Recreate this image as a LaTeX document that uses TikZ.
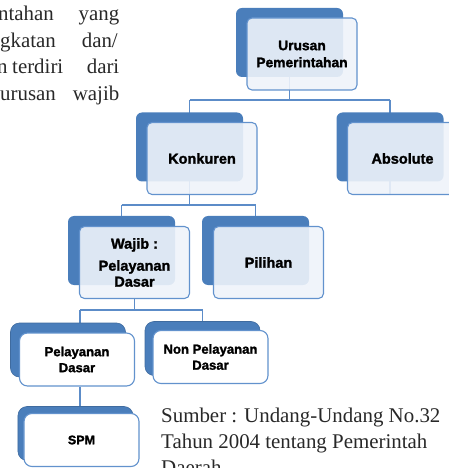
\documentclass[tikz,border=0pt]{standalone}
\usepackage{fontspec}
\setmainfont{Liberation Serif}
\newfontfamily\boxfont{Liberation Sans}[BoldFeatures={FakeBold=1.6}]
\definecolor{backblue}{RGB}{74,126,187}
\definecolor{edgeblue}{RGB}{98,146,205}
\definecolor{linkblue}{RGB}{92,140,200}
\definecolor{frontfill}{RGB}{238,243,250}
\definecolor{prose}{RGB}{40,40,40}
\pgfdeclarelayer{links}
\pgfsetlayers{links,main}
\begin{document}
\begin{tikzpicture}[x=1bp,y=-1bp,
  backbox/.style={fill=backblue, draw=none, rounded corners=6bp, minimum width=107bp, minimum height=69bp, inner sep=0pt},
  frontbox/.style={draw=edgeblue, line width=1.1bp, fill=frontfill, fill opacity=0.9, text opacity=1, draw opacity=1,
    rounded corners=5bp, minimum width=110bp, minimum height=72bp, inner sep=0pt, align=center,
    font=\boxfont\bfseries\fontsize{14.5bp}{16bp}\selectfont},
  backboxq/.style={fill=backblue, draw=backblue!85!black, line width=0.6bp, rounded corners=9bp, minimum width=115bp, minimum height=54bp, inner sep=0pt},
  frontboxq/.style={draw=edgeblue, line width=1.1bp, fill=white, rounded corners=8bp, minimum width=115bp, minimum height=53bp,
    inner sep=0pt, align=center, font=\boxfont\bfseries\fontsize{13.1bp}{16bp}\selectfont},
  conn/.style={draw=linkblue, line width=1.2bp},
  prosetext/.style={inner sep=0pt, text=prose, font=\fontsize{20.9bp}{26bp}\selectfont}
]
\useasboundingbox (0,0) rectangle (449,468);
\clip (0,0) rectangle (449,468);

% level 1
\node[backbox] (uB) at (289.5,42.5) {};
\node[frontbox, font=\boxfont\bfseries\fontsize{13.8bp}{17bp}\selectfont] (uF) at (302,54) {Urusan\\Pemerintahan};
% level 2
\node[backbox] (kB) at (189.5,147) {};
\node[frontbox] (kF) at (202,158.5) {Konkuren};
\node[backbox] (aB) at (390,147) {};
\node[frontbox] (aF) at (402.5,158.5) {Absolute};
% level 3
\node[backbox] (wB) at (121.5,250.5) {};
\node[frontbox] (wF) at (134.5,262.5) {Wajib :\\[6bp]Pelayanan\\Dasar};
\node[backbox] (piB) at (255.5,250.5) {};
\node[frontbox] (piF) at (268.5,262.5) {Pilihan};
% level 4
\node[backboxq] (pB) at (68,350) {};
\node[frontboxq] (pF) at (77,359.5) {Pelayanan\\Dasar};
\node[backboxq] (nB) at (202.5,348.5) {};
\node[frontboxq] (nF) at (210.5,357) {Non Pelayanan\\Dasar};
% level 5
\node[backboxq] (sB) at (75.5,433.5) {};
\node[frontboxq, font=\boxfont\bfseries\fontsize{12.5bp}{16bp}\selectfont] (sF) at (81.5,440) {SPM};

% connectors
\coordinate (b1) at (0,100);
\coordinate (b2) at (0,205);
\coordinate (b3) at (80,310);
\begin{pgfonlayer}{links}
\draw[conn] (uB.center) -- (uB.center |- b1);
\draw[conn] (kB.center |- b1) -- (aB.center |- b1);
\draw[conn] (kB.center |- b1) -- (kB.center) -- (kB.center |- b2);
\draw[conn] (aB.center |- b1) -- (aB.center) -- (aB.center |- aF.south);
\draw[conn] (wB.center |- b2) -- (piB.center |- b2);
\draw[conn] (wB.center |- b2) -- (wB.center);
\draw[conn] (piB.center |- b2) -- (piB.center);
\draw[conn] (wF.south) -- (wF.south |- b3);
\draw[conn] (b3) -- (nB.center |- b3) -- (nB.center);
\draw[conn] (b3) -- (b3 |- pB.center);
\draw[conn] (b3 |- pF.south) -- (b3 |- sB.center);
\end{pgfonlayer}

% paragraph fragment (top left)
\node[prosetext, anchor=base west] (p1a) at (-2,21) {ntahan};
\node[prosetext, anchor=base east] (p1b) at (119.5,21) {yang};
\node[prosetext, anchor=base west] (p2a) at (0,48) {gkatan};
\node[prosetext, anchor=base east] (p2b) at (118,48) {dan/};
\node[prosetext, anchor=base west] (p3a) at (-3,74) {n};
\node[prosetext, anchor=base west] (p3b) at (12,74) {terdiri};
\node[prosetext, anchor=base east] (p3c) at (119.5,74) {dari};
\node[prosetext, anchor=base west] (p4a) at (0,101) {urusan};
\node[prosetext, anchor=base east] (p4b) at (119.5,101) {wajib};

% source caption
\node[prosetext, anchor=base west] (c1) at (161,422) {Sumber : Undang-Undang No.32};
\node[prosetext, anchor=base west] (c2) at (161,448) {Tahun 2004 tentang Pemerintah};
\node[prosetext, anchor=base west] (c3) at (161,474) {Daerah};
\end{tikzpicture}
\end{document}
